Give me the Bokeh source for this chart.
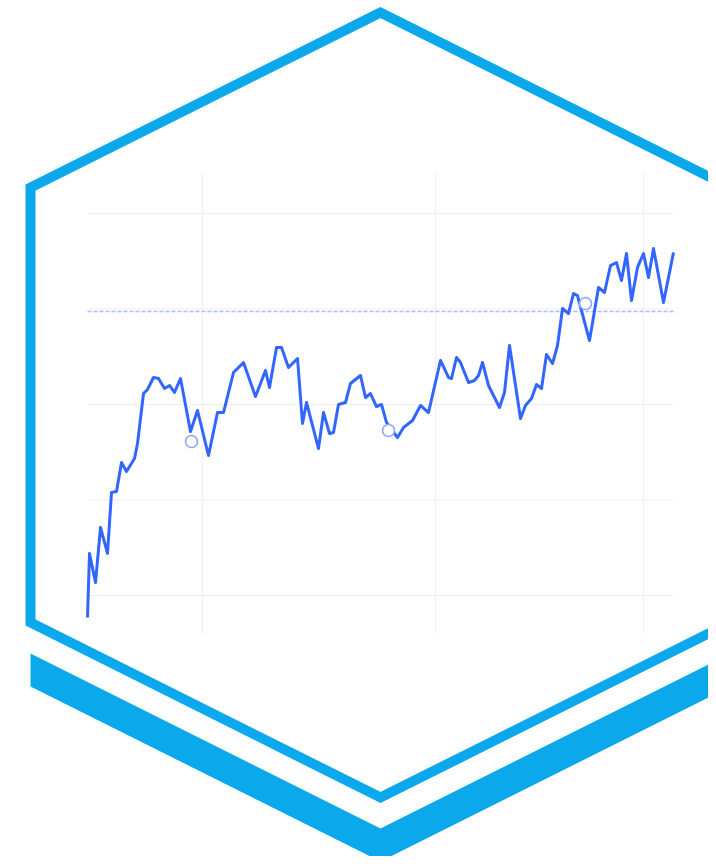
from bokeh.plotting import figure
from bokeh.models import Range1d
from bokeh.embed import file_html
from bokeh.resources import INLINE

# ---- data ----
pos = [0, 2, 8, 13, 20, 24, 29, 34, 39, 47, 50, 56, 60, 66, 71, 77, 82, 87, 93,
       103, 110, 121, 130, 136, 146, 156, 168, 178, 182, 189, 194, 201, 210, 215,
       219, 231, 236, 242, 246, 251, 258, 263, 273, 278, 283, 289, 294, 299, 310,
       316, 325, 333, 341, 353, 361, 364, 369, 373, 381, 387, 391, 395, 401, 412,
       417, 422, 433, 438, 444, 449, 454, 459, 465, 470, 475, 481, 486, 490, 502,
       511, 517, 523, 529, 534, 539, 544, 550, 556, 561, 566, 576, 586]
val = [-2.30, 4.40, 1.36, 7.12, 4.40, 10.79, 10.89, 13.93, 12.98, 14.35, 15.92,
       21.15, 21.57, 22.83, 22.72, 21.68, 21.99, 21.26, 22.72, 17.17, 19.37, 14.66,
       19.16, 19.16, 23.35, 24.40, 20.84, 23.56, 21.78, 25.97, 25.97, 23.87, 24.82,
       18.01, 20.21, 15.39, 19.16, 16.96, 17.07, 20.00, 20.21, 22.20, 23.04, 20.73,
       21.15, 19.79, 20.00, 18.12, 16.54, 17.59, 18.32, 19.90, 19.16, 24.61, 22.83,
       22.72, 24.92, 24.40, 22.30, 22.51, 23.04, 24.40, 21.99, 19.69, 21.26, 26.18,
       18.53, 19.90, 20.63, 22.09, 21.68, 25.24, 24.29, 26.18, 30.05, 29.53, 31.62,
       31.41, 26.70, 32.25, 31.73, 34.55, 34.87, 32.98, 35.81, 30.89, 34.35, 35.81,
       33.30, 36.34, 30.68, 35.92]
marker_pos = [104, 301, 498]
marker_val = [16.13, 17.28, 30.58]
level_val = [29.74]
y_ticks = [0, 10, 20, 30, 40]
x_ticks = [115, 348, 556]
x_extent = [0, 586]
y_extent = [-3.98, 44.19]

# hexagon decoration (pixel space), described by centre and half sizes
HEX_CX, HEX_CY = 380, 404.5
HEX_HW, HEX_SIDE, HEX_CAP = 350, 217.5, 175
BAND_TOP, BAND_THICK = 653, 33

# ---- layout ----
W, H, M = 708, 856, 0
X0_PX = 87          # pixel x of data position 0
Y0_PX = 595         # pixel y of value 0
PX_PER_UNIT_Y = 9.55

xr = Range1d(M - X0_PX, M + W - X0_PX)
yr = Range1d((Y0_PX - (M + H)) / PX_PER_UNIT_Y, (Y0_PX - M) / PX_PER_UNIT_Y)

p = figure(width=W, height=H, x_range=xr, y_range=yr, output_backend="svg",
           toolbar_location=None, x_axis_location=None, y_axis_location=None,
           min_border=0, outline_line_color=None, background_fill_color="white",
           border_fill_color="white")
p.xgrid.visible = False
p.ygrid.visible = False
p.extra_x_ranges = {"deco": Range1d(M, M + W)}
p.extra_y_ranges = {"deco": Range1d(M + H, M)}

# grid lines limited to the chart area
grid_col = "#efefef"
p.segment(x0=[x_extent[0]] * len(y_ticks), x1=[x_extent[1]] * len(y_ticks),
          y0=y_ticks, y1=y_ticks, line_color=grid_col, line_width=1)
p.segment(x0=x_ticks, x1=x_ticks, y0=[y_extent[0]] * len(x_ticks),
          y1=[y_extent[1]] * len(x_ticks), line_color=grid_col, line_width=1)

# dashed level line
p.segment(x0=[x_extent[0]], x1=[x_extent[1]], y0=level_val, y1=level_val,
          line_color="#a9bcff", line_width=1.5, line_dash="4 2")

# main series
p.line(pos, val, line_color="#3366ff", line_width=3, line_join="round")

# markers
p.scatter(marker_pos, marker_val, size=12, fill_color="white",
          line_color="#8ea6f7", line_width=1.6)

# hexagon outline (closed path so every corner is mitred)
hx = [HEX_CX, HEX_CX - HEX_HW, HEX_CX - HEX_HW, HEX_CX, HEX_CX + HEX_HW, HEX_CX + HEX_HW]
hy = [HEX_CY - HEX_SIDE - HEX_CAP, HEX_CY - HEX_SIDE, HEX_CY + HEX_SIDE,
      HEX_CY + HEX_SIDE + HEX_CAP, HEX_CY + HEX_SIDE, HEX_CY - HEX_SIDE]
p.patch(hx, hy, fill_color=None, line_color="#0ba8ec", line_width=10,
        line_join="miter", x_range_name="deco", y_range_name="deco")

# base band
bx = [HEX_CX - HEX_HW, HEX_CX, HEX_CX + HEX_HW, HEX_CX + HEX_HW, HEX_CX, HEX_CX - HEX_HW]
by = [BAND_TOP, BAND_TOP + HEX_CAP, BAND_TOP, BAND_TOP + BAND_THICK,
      BAND_TOP + BAND_THICK + HEX_CAP, BAND_TOP + BAND_THICK]
p.patch(bx, by, fill_color="#0ba8ec", line_color=None,
        x_range_name="deco", y_range_name="deco")

open("out.html", "w").write(file_html(p, INLINE))
